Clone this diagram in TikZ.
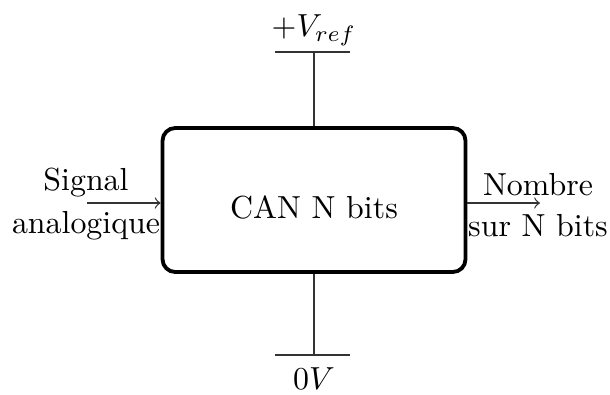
\documentclass[tikz,border=0pt]{standalone}
\usetikzlibrary{arrows}
\begin{document}
\begin{tikzpicture}[x=0.3135pt,y=-0.3135pt,
  wire/.style={draw=black!80,line width=0.4pt},
  block/.style={draw,very thick,rounded corners=4pt,minimum width=303*0.3135pt,minimum height=144*0.3135pt},
  lbl/.style={inner sep=0pt,font=\normalsize}]
\useasboundingbox (0,0) rectangle (610,394);
% converter block
\node[block] (can) at (314,200) {};
\node[lbl] (cantext) at (314,207) {CAN N bits};
% supply rails
\coordinate (vt) at (314,52);
\coordinate (vb) at (314,355);
\coordinate (tl) at (275,52);
\coordinate (tr) at (350,52);
\coordinate (bl) at (275,355);
\coordinate (br) at (350,355);
\draw[wire] (can.north) -- (vt);
\draw[wire] (tl) -- (tr);
\draw[wire] (can.south) -- (vb);
\draw[wire] (bl) -- (br);
\node[lbl] (vref) at (314,30) {$+V_{ref}$};
\node[lbl] (zero) at (314,379) {$0V$};
% input and output signals
\coordinate (in) at (87,203);
\coordinate (out) at (540,203);
\draw[wire,->] (in) -- (can.west |- in);
\draw[wire,->] (can.east |- out) -- (out);
\node[lbl] (sig1) at (86,183) {Signal};
\node[lbl] (sig2) at (86,226) {analogique};
\node[lbl] (nb1) at (538,185) {Nombre};
\node[lbl] (nb2) at (538,226) {sur N bits};
\end{tikzpicture}
\end{document}
